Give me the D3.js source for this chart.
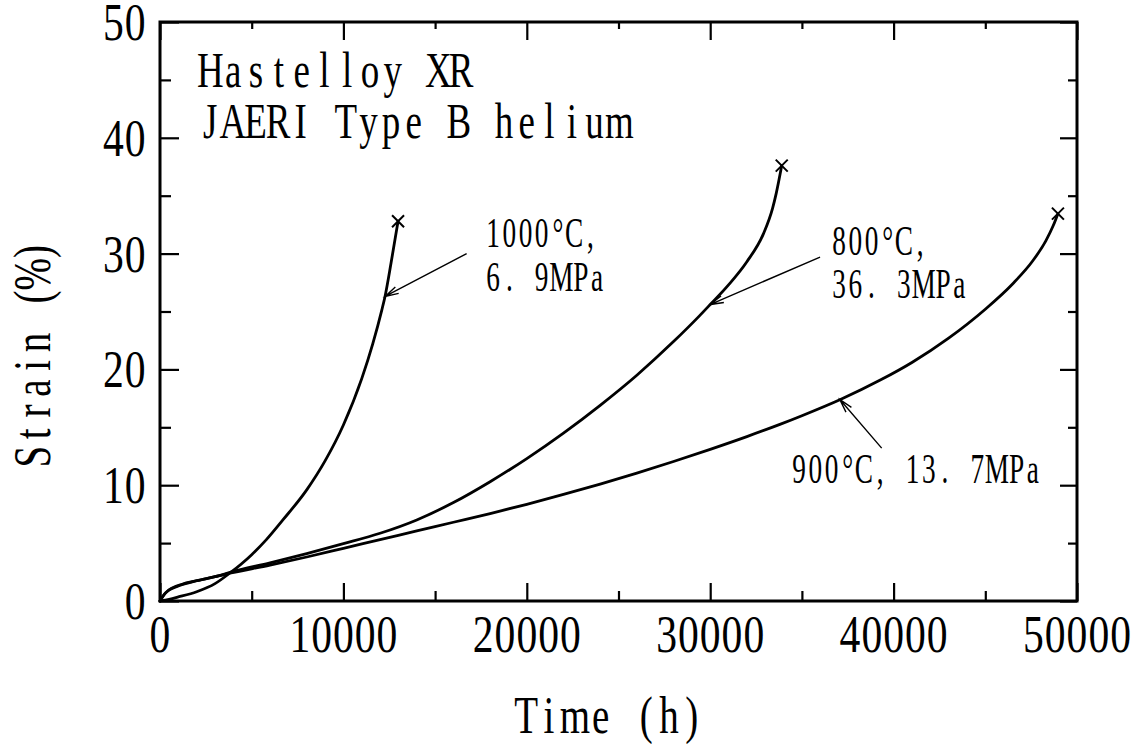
<!DOCTYPE html>
<html>
<head>
<meta charset="utf-8">
<script src="https://cdn.jsdelivr.net/npm/d3@7"></script>
<style>
html,body{margin:0;padding:0;background:#fff;}
svg{display:block;}
</style>
</head>
<body>
<svg id="chart" width="1144" height="744"></svg>
<script>
// ---------------- data ----------------
const xTicks = [0, 10000, 20000, 30000, 40000, 50000];
const xMinorTicks = [5000, 15000, 25000, 35000, 45000];
const yTicks = [0, 10, 20, 30, 40, 50];
const yMinorTicks = [5, 15, 25, 35, 45];

// 1000°C, 6.9MPa
const time1000 = [0, 500, 1000, 2000, 3000, 3800, 5000, 5800, 6700, 8000, 9000, 10000, 11000, 11600, 12090, 12270, 12600, 12980];
const strain1000 = [0, 0.15, 0.35, 0.8, 1.5, 2.4, 4.0, 5.3, 7.0, 9.6, 12.1, 15.2, 19.2, 22.2, 25.1, 26.3, 29.2, 32.8];

// 800°C, 36.3MPa
const time800 = [0, 300, 700, 1200, 2000, 3000, 4000, 6000, 8000, 10000, 12000, 14000, 16000, 18000, 20000, 22000, 24000, 26000, 28000, 29400, 30000, 31000, 32000, 32900, 33400, 33600, 33900];
const strain800 = [0, 0.7, 1.15, 1.45, 1.75, 2.1, 2.55, 3.3, 4.1, 4.95, 5.85, 7.0, 8.5, 10.3, 12.3, 14.5, 16.9, 19.5, 22.4, 24.6, 25.6, 27.3, 29.3, 31.7, 33.9, 35.2, 37.6];

// 900°C, 13.7MPa
const time900 = [0, 200, 500, 1000, 2000, 3000, 3800, 6000, 8000, 10000, 12000, 14000, 16000, 18000, 20000, 22000, 24000, 26000, 28000, 30000, 32000, 33800, 35000, 37100, 39300, 41000, 43000, 45000, 46500, 47600, 48300, 48700, 48960];
const strain900 = [0, 0.5, 0.95, 1.3, 1.75, 2.1, 2.4, 3.1, 3.8, 4.55, 5.3, 6.05, 6.8, 7.55, 8.35, 9.2, 10.1, 11.05, 12.05, 13.1, 14.2, 15.25, 16.0, 17.4, 19.1, 20.6, 22.7, 25.2, 27.4, 29.4, 31.1, 32.4, 33.45];

const seriesNames = ["1000°C, 6.9MPa", "800°C, 36.3MPa", "900°C, 13.7MPa"];

// annotation arrows (tail -> tip) in data units [time, strain]
const arrowTails = [[16720, 30.0], [35990, 29.7], [39350, 13.2]];
const arrowTips = [[12270, 26.3], [29990, 25.6], [37070, 17.4]];

// ---------------- chart ----------------
const svg = d3.select("#chart");
const W = 1144, H = 744;
const L = 160, R = 1077, T = 22, B = 601;
const FONT = "'Liberation Serif', 'Times New Roman', serif";

const x = d3.scaleLinear().domain([0, 50000]).range([L, R]);
const y = d3.scaleLinear().domain([0, 50]).range([B, T]);

svg.append("rect").attr("width", W).attr("height", H).attr("fill", "#fff");

// wide glyphs (em units) that need a larger advance
const wideEm = { "M": 0.889, "m": 0.778, "W": 0.944, "w": 0.722 };

// monospace-like text: each char on a fixed advance, glyphs compressed horizontally
function monoText(parent, str, o) {
  const sx = o.sx || 0.78;
  const chars = Array.from(str);
  const advs = chars.map(c => wideEm[c] ? Math.max(o.adv, wideEm[c] * o.size * sx * 0.95) : o.adv);
  const Wd = d3.sum(advs);
  const off = o.anchor === "middle" ? -Wd / 2 : (o.anchor === "end" ? -Wd : 0);
  let acc = off;
  const xs = chars.map((c, i) => { const cx = acc + advs[i] / 2; acc += advs[i]; return (cx / sx).toFixed(2); });
  const tr = `translate(${o.x},${o.y})` + (o.rotate ? ` rotate(${o.rotate})` : "") + ` scale(${sx},1)`;
  return parent.append("text")
    .attr("transform", tr)
    .attr("x", xs.join(" "))
    .attr("y", 0)
    .attr("text-anchor", "middle")
    .attr("font-family", FONT)
    .attr("font-size", o.size)
    .attr("fill", "#000")
    .text(str);
}

// ticks (inward) using d3 axes
function tickAxis(axisFn, scale, values, size, transform) {
  const g = svg.append("g").attr("transform", transform)
    .call(axisFn(scale).tickValues(values).tickSize(size).tickFormat(""));
  g.select(".domain").remove();
  g.selectAll(".tick line").attr("stroke", "#000").attr("stroke-width", 2.2);
  return g;
}
tickAxis(d3.axisBottom, x, xTicks, -18, `translate(0,${B})`);
tickAxis(d3.axisBottom, x, xMinorTicks, -10, `translate(0,${B})`);
tickAxis(d3.axisTop, x, xTicks, -18, `translate(0,${T})`);
tickAxis(d3.axisTop, x, xMinorTicks, -7, `translate(0,${T})`);
tickAxis(d3.axisLeft, y, yTicks, -19, `translate(${L},0)`);
tickAxis(d3.axisLeft, y, yMinorTicks, -11, `translate(${L},0)`);
tickAxis(d3.axisRight, y, yTicks, -17, `translate(${R},0)`);
tickAxis(d3.axisRight, y, yMinorTicks, -9, `translate(${R},0)`);

// frame
svg.append("rect")
  .attr("x", L).attr("y", T).attr("width", R - L).attr("height", B - T)
  .attr("fill", "none").attr("stroke", "#000").attr("stroke-width", 3);

// tick labels
xTicks.forEach(v => monoText(svg, String(v), { x: x(v), y: 652, size: 52, adv: 21.8, sx: 0.8, anchor: "middle" }));
yTicks.forEach(v => monoText(svg, String(v), { x: 146, y: y(v) + 18, size: 52, adv: 21.8, sx: 0.8, anchor: "end" }));

// axis titles
monoText(svg, "Time (h)", { x: 609, y: 733, size: 52, adv: 22.8, sx: 0.75, anchor: "middle" });
monoText(svg, "Strain (%)", { x: 50, y: 354, size: 52, adv: 22.8, sx: 0.75, anchor: "middle", rotate: -90 });

// header text
monoText(svg, "Hastelloy XR", { x: 199, y: 87, size: 50, adv: 22.8, sx: 0.74 });
monoText(svg, "JAERI Type B helium", { x: 199, y: 138, size: 50, adv: 22.6, sx: 0.74 });

// curves
const line = d3.line().x(d => x(d[0])).y(d => y(d[1])).curve(d3.curveMonotoneX);
const series = [
  d3.zip(time1000, strain1000),
  d3.zip(time800, strain800),
  d3.zip(time900, strain900)
];
svg.append("g").selectAll("path").data(series).join("path")
  .attr("d", line)
  .attr("fill", "none").attr("stroke", "#000").attr("stroke-width", 2.8)
  .attr("stroke-linejoin", "round").attr("stroke-linecap", "round");

// rupture markers (x)
const mk = 6;
svg.append("g").selectAll("path").data(series.map(s => s[s.length - 1])).join("path")
  .attr("d", d => {
    const px = x(d[0]), py = y(d[1]);
    return `M${px - mk},${py - mk}L${px + mk},${py + mk}M${px - mk},${py + mk}L${px + mk},${py - mk}`;
  })
  .attr("stroke", "#000").attr("stroke-width", 2).attr("fill", "none");

// arrows
const arrowG = svg.append("g");
arrowTails.forEach((tail, i) => {
  const x1 = x(tail[0]), y1 = y(tail[1]);
  const x2 = x(arrowTips[i][0]), y2 = y(arrowTips[i][1]);
  const ang = Math.atan2(y1 - y2, x1 - x2);
  const hl = 14, ha = 0.26;
  const b1 = [x2 + hl * Math.cos(ang + ha), y2 + hl * Math.sin(ang + ha)];
  const b2 = [x2 + hl * Math.cos(ang - ha), y2 + hl * Math.sin(ang - ha)];
  arrowG.append("path")
    .attr("d", `M${x1},${y1}L${x2},${y2}M${b1[0]},${b1[1]}L${x2},${y2}L${b2[0]},${b2[1]}`)
    .attr("fill", "none").attr("stroke", "#000").attr("stroke-width", 1.4);
});

// annotation labels
const ann = { size: 42, adv: 16.2, sx: 0.65 };
monoText(svg, "1000°C,", Object.assign({ x: 485, y: 247 }, ann));
monoText(svg, "6. 9MPa", Object.assign({ x: 485, y: 291 }, ann));
monoText(svg, "800°C,", Object.assign({ x: 831, y: 255 }, ann));
monoText(svg, "36. 3MPa", Object.assign({ x: 831, y: 298 }, ann));
monoText(svg, "900°C, 13. 7MPa", Object.assign({ x: 791, y: 483 }, ann));
</script>
</body>
</html>
